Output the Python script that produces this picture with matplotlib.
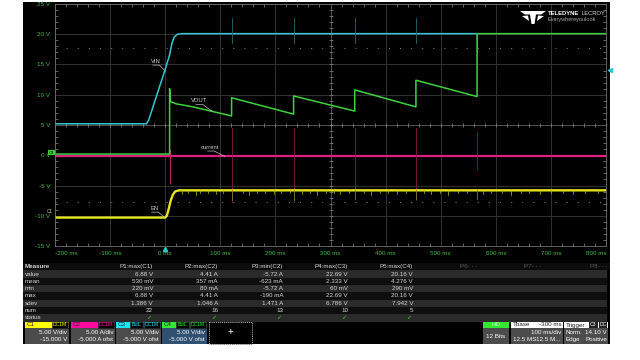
import matplotlib

matplotlib.use("Agg")
import matplotlib.pyplot as plt
from matplotlib.patches import Rectangle, Polygon
from matplotlib.ticker import MultipleLocator

plt.rcParams["font.family"] = ["Liberation Sans", "DejaVu Sans"]

# waveform data, time in ms, values in displayed volts (5 V/div grid)
vin_t = [-200, -34, -30, 0, 8, 12, 16, 22, 30, 566]
vin_v = [5.2, 5.2, 5.8, 14.2, 16.6, 18.4, 19.5, 20.0, 20.1, 20.1]

vout_t = [-200, 8, 8, 9, 10, 20, 50, 120.5, 120.5, 233, 233, 344, 344, 455, 455, 566, 566, 800]
vout_v = [0.2, 0.2, 11.0, 9.2, 8.85, 8.5, 8.0, 6.5, 9.5, 6.8, 9.8, 7.3, 10.8, 8.0, 12.4, 9.7, 20.1, 20.1]

cur_t = [-200, 800]
cur_v = [-0.1, -0.1]
cur_glitch_t = 8
cur_glitch_lo = -4.6
cur_glitch_hi = 0.8

en_t = [-200, 0, 3, 6, 10, 14, 18, 25, 800]
en_v = [-10.3, -10.3, -10.0, -9.0, -7.5, -6.5, -6.0, -5.8, -5.8]

# small downward glitches on the EN trace
en_glitch_t = [31, 42, 55, 64, 78, 93, 104, 141, 152, 167, 181, 197, 211, 226, 249, 262, 276,
               291, 306, 318, 334, 361, 373, 389, 404, 421, 437, 469, 483, 498, 513, 531, 548,
               576, 591, 611, 628, 646, 661, 681, 701, 722, 741, 762, 786]
en_glitch_v = [-6.4, -6.2, -6.5, -6.3, -6.2, -6.4, -6.3, -6.2, -6.5, -6.3, -6.2, -6.4, -6.3, -6.2,
               -6.4, -6.3, -6.5, -6.2, -6.3, -6.4, -6.2, -6.3, -6.5, -6.2, -6.3, -6.4, -6.2, -6.3,
               -6.4, -6.2, -6.5, -6.3, -6.2, -6.4, -6.3, -6.2, -6.5, -6.3, -6.2, -6.4, -6.3, -6.2,
               -6.4, -6.3, -6.2]

# switching events where every channel shows a spike
jump_t = [120.5, 233, 344, 455, 566]
vin_spike_hi = [22.7, 22.7, 22.7, 22.7, 20.2]
vin_spike_lo = [18.6, 18.6, 18.6, 18.6, 16.9]
cur_spike_hi = [4.5, 4.5, 4.5, 4.5, 3.9]
cur_spike_lo = [-7.7, -7.7, -5.7, -7.4, -2.4]
en_spike_lo = [-7.4, -7.4, -7.2, -7.3, -7.2]

x_ticks = [-200, -100, 0, 100, 200, 300, 400, 500, 600, 700, 800]
x_labels = ["-200 ms", "-100 ms", "0 ms", "100 ms", "200 ms", "300 ms", "400 ms",
            "500 ms", "600 ms", "700 ms", "800 ms"]
y_ticks = [25, 20, 15, 10, 5, 0, -5, -10, -15]
y_labels = ["25 V", "20 V", "15 V", "10 V", "5 V", "0 V", "-5 V", "-10 V", "-15 V"]

trace_names = ["VIN", "VOUT", "current", "EN"]
trace_label_xy = [(-17.6, 15.5), (61, 9.0), (82, 1.3), (-19.5, -8.8)]
trace_point_xy = [(0.5, 13.9), (86, 7.2), (108, -0.2), (0.5, -10.4)]

# measurement table
rows = ["value", "mean", "min", "max", "sdev", "num", "status"]
params = ["P1:max(C1)", "P2:max(C2)", "P3:min(C2)", "P4:max(C3)", "P5:max(C4)",
          "P6- - -", "P7- - -", "P8- - -"]
p1 = ["6.88 V", "530 mV", "220 mV", "6.88 V", "1.386 V", "22"]
p2 = ["4.41 A", "357 mA", "80 mA", "4.41 A", "1.046 A", "16"]
p3 = ["-5.72 A", "-623 mA", "-5.72 A", "-190 mA", "1.471 A", "13"]
p4 = ["22.69 V", "2.333 V", "60 mV", "22.69 V", "6.786 V", "10"]
p5 = ["20.16 V", "4.276 V", "290 mV", "20.16 V", "7.942 V", "5"]

C_CYAN = "#35c6d4"
C_GREEN = "#3fd23f"
C_PINK = "#dd1f7d"
C_YEL = "#e6e61e"
C_TICK = "#3dbb3d"
C_TXT = "#d8d8d8"

fig = plt.figure(figsize=(6.4, 3.6), dpi=100, facecolor="white")
fig.patches.append(Rectangle((23 / 640, 1 - 344 / 360), 587 / 640, 342 / 360,
                             transform=fig.transFigure, facecolor="black", zorder=-1))

ax = fig.add_axes([55 / 640, 1 - 246 / 360, 551 / 640, 242 / 360], facecolor="black")
ax.set_xlim(-200, 800)
ax.set_ylim(-15, 25)
ax.set_xticks(x_ticks)
ax.set_xticklabels(x_labels)
ax.set_yticks(y_ticks)
ax.set_yticklabels(y_labels)
ax.xaxis.set_minor_locator(MultipleLocator(20))
ax.yaxis.set_minor_locator(MultipleLocator(1))
ax.tick_params(which="major", length=0, colors=C_TICK, labelsize=4.5, pad=3.5)
ax.tick_params(which="minor", direction="in", length=2, color="#8a8a8a", width=0.5,
               top=True, right=True)
xl = ax.get_xticklabels()
xl[0].set_ha("left")
xl[-1].set_ha("right")
for s in ax.spines.values():
    s.set_color("#707070")
    s.set_linewidth(0.6)
ax.grid(True, which="major", color="#3a3a3a", linewidth=0.6)

# centre crosshair with sub-division ticks
ax.axvline(300, color="#555555", linewidth=0.6)
ax.axhline(5, color="#555555", linewidth=0.6)
ax.plot(list(range(-200, 801, 20)), [5] * 51, ls="none", marker="|", ms=2.5,
        mew=0.5, color="#8a8a8a")
ax.plot([300] * 41, list(range(-15, 26)), ls="none", marker="_", ms=2.5,
        mew=0.5, color="#8a8a8a")

# dotted reference levels
ax.axhline(17.7, color="#707070", lw=0.8, ls=(0, (1, 9)))
ax.axhline(-7.7, color="#707070", lw=0.8, ls=(0, (1, 9)))

# traces
ax.plot(cur_t, cur_v, color=C_PINK, lw=1.6, solid_capstyle="butt")
ax.plot([cur_glitch_t, cur_glitch_t], [cur_glitch_hi, cur_glitch_lo], color="#c01a6c", lw=0.8)
for t, hi, lo in zip(jump_t, cur_spike_hi, cur_spike_lo):
    ax.plot([t, t], [hi, lo], color="#8a1650", lw=0.6)

ax.plot(en_t, en_v, color=C_YEL, lw=1.7)
for t, v in zip(en_glitch_t, en_glitch_v):
    ax.plot([t, t], [-5.8, v], color="#b5b520", lw=0.5)
for t, lo in zip(jump_t, en_spike_lo):
    ax.plot([t, t], [-5.8, lo], color="#7a7a30", lw=0.6)

ax.plot(vin_t, vin_v, color=C_CYAN, lw=1.1)
for t, hi, lo in zip(jump_t, vin_spike_hi, vin_spike_lo):
    ax.plot([t, t], [lo, hi], color="#236a72", lw=0.6)

ax.plot(vout_t, vout_v, color=C_GREEN, lw=1.1)

# trace labels with leader lines
for name, (lx, ly), (px, py) in zip(trace_names, trace_label_xy, trace_point_xy):
    ax.text(lx, ly, name, color="#cfcfcf", fontsize=4.2, ha="center", va="center")
    ax.plot([lx - 5, lx + 7, px], [ly - 0.6, ly - 0.6, py], color="#bbbbbb", lw=0.5)

# trigger markers
ax.plot([807], [14.1], marker="<", ms=3, color=C_CYAN, clip_on=False)
ax.plot([0], [-15.5], marker="^", ms=3, color=C_CYAN, clip_on=False)

# overlay in pixel coords for logo, table and info boxes
ov = fig.add_axes([0, 0, 1, 1], facecolor="none", zorder=3)
ov.set_xlim(0, 640)
ov.set_ylim(360, 0)
ov.axis("off")

ov.add_patch(Rectangle((48, 150), 7, 5, facecolor=C_GREEN, edgecolor="none"))
ov.text(51.5, 152.6, "C4", fontsize=3.2, color="black", ha="center", va="center")
ov.text(50, 211.5, "C1", fontsize=3.4, color="#d8d8a0", ha="center", va="center")

# logo
ov.add_patch(Polygon([(520, 11), (546, 11), (541, 14.5), (536, 14.5), (534.5, 24),
                      (531.5, 24), (530, 14.5), (525, 14.5)], closed=True,
                     facecolor="white", edgecolor="none"))
ov.add_patch(Polygon([(522, 16), (528, 15.5), (529, 21)], closed=True, facecolor="white"))
ov.add_patch(Polygon([(544, 16), (538, 15.5), (537, 21)], closed=True, facecolor="white"))
ov.text(548, 13.5, "TELEDYNE", fontsize=4.2, fontweight="bold", color="white", va="center")
ov.text(582, 13.5, "LECROY", fontsize=4.2, color="#dddddd", va="center")
ov.text(548, 20, "Everywhereyoulook", fontsize=4.0, color="#aaaaaa", va="center")

# table
col_x = [153, 218, 283, 348, 413, 478, 542, 607]
row_h = 7.33
ov.add_patch(Rectangle((23, 263), 587, row_h, facecolor="#0c0c0c", edgecolor="none"))
ov.text(25, 266.7, "Measure", fontsize=4.5, fontweight="bold", color=C_TXT, va="center")
for i, p in enumerate(params):
    ov.text(col_x[i], 266.7, p, fontsize=4.5, va="center", ha="right",
            color=C_TXT if i < 5 else "#5a5a5a")
cols = [p1, p2, p3, p4, p5]
for r, name in enumerate(rows):
    yc = 274 + row_h * r
    ov.add_patch(Rectangle((23, yc - row_h / 2), 584, row_h,
                           facecolor="#2a2a2a" if r % 2 == 0 else "#0e0e0e",
                           edgecolor="none"))
    ov.text(25, yc, name, fontsize=4.5, color=C_TXT, va="center")
    for c, vals in enumerate(cols):
        if name == "status":
            ov.text(col_x[c] - 2, yc, "\u2713", fontsize=4.5, color="#44dd22",
                    ha="right", va="center", fontweight="bold")
        else:
            ov.text(col_x[c], yc, vals[r], fontsize=4.5, color=C_TXT, ha="right", va="center")


def chan_box(x0, x1, head, name, tags, line1, line2, body="#4c4c4c", tag_col="black"):
    ov.add_patch(Rectangle((x0, 321.5), x1 - x0, 6.8, facecolor=head, edgecolor="none"))
    ov.add_patch(Rectangle((x0, 328.3), x1 - x0, 15.7, facecolor=body, edgecolor="none"))
    ov.text(x0 + 2, 325, name, fontsize=4.5, color="#222222", va="center")
    xr = x1 - 1
    for tag in reversed(tags):
        w = 3.6 * len(tag) + 2
        ov.add_patch(Rectangle((xr - w, 322.3), w, 5.4, facecolor=tag_col,
                               edgecolor="#222222", lw=0.4))
        ov.text(xr - w / 2, 325, tag, fontsize=3.6, color=head, ha="center", va="center")
        xr -= w + 1
    ov.text(x1 - 2, 333, line1, fontsize=4.5, color="white", ha="right", va="center")
    ov.text(x1 - 2, 339.5, line2, fontsize=4.5, color="white", ha="right", va="center")


chan_box(25, 69, "#ffff00", "C1", ["DC1M"], "5.00 V/div", "-15.000 V")
chan_box(71, 115, "#ff0aa0", "C2", ["DC1M"], "5.00 A/div", "-5.000 A ofst")
chan_box(116, 161, "#1de6f2", "C3", ["BwL", "DC1M"], "5.00 V/div", "-5.000 V ofst")
chan_box(162, 207, "#36e836", "C4", ["BwL", "DC1M"], "5.00 V/div", "-5.000 V ofst",
         body="#2f5070")

ov.add_patch(Rectangle((209, 321.5), 43, 22.5, facecolor="black", edgecolor="white",
                       lw=0.5, ls=(0, (1.5, 1.5))))
ov.text(230.5, 332.5, "+", fontsize=7, color="white", ha="center", va="center")

# acquisition info boxes
ov.add_patch(Rectangle((483, 321.5), 26, 6.8, facecolor="#2fe82f", edgecolor="none"))
ov.add_patch(Rectangle((483, 328.3), 26, 15.7, facecolor="#4c4c4c", edgecolor="none"))
ov.text(496, 325, "HD", fontsize=4.5, color="#d0ffd0", ha="center", va="center")
ov.text(496, 336, "12 Bits", fontsize=4.5, color="white", ha="center", va="center")

ov.add_patch(Rectangle((511, 321.5), 52, 6.8, facecolor="white", edgecolor="none"))
ov.add_patch(Rectangle((511, 328.3), 52, 15.7, facecolor="#4c4c4c", edgecolor="none"))
ov.text(513, 325, "Tbase", fontsize=4.5, color="#222222", va="center")
ov.text(562, 325, "-300 ms", fontsize=4.5, color="#222222", ha="right", va="center")
ov.text(561, 333, "100 ms/div", fontsize=4.5, color="white", ha="right", va="center")
ov.text(513, 339.5, "12.5 MS", fontsize=4.5, color="white", va="center")
ov.text(561, 339.5, "12.5 M...", fontsize=4.5, color="white", ha="right", va="center")

ov.add_patch(Rectangle((564, 321.5), 44, 6.8, facecolor="white", edgecolor="none"))
ov.add_patch(Rectangle((564, 328.3), 44, 15.7, facecolor="#4c4c4c", edgecolor="none"))
ov.text(566, 325, "Trigger", fontsize=4.5, color="#222222", va="center")
for bx, tag in [(589, "C3"), (598.5, "DC")]:
    ov.add_patch(Rectangle((bx, 322.3), 8.5, 5.4, facecolor="#222222", edgecolor="none"))
    ov.text(bx + 4.25, 325, tag, fontsize=3.6, color="white", ha="center", va="center")
ov.text(566, 333, "Norm.", fontsize=4.5, color="white", va="center")
ov.text(607, 333, "14.10 V", fontsize=4.5, color="white", ha="right", va="center")
ov.text(566, 339.5, "Edge", fontsize=4.5, color="white", va="center")
ov.text(607, 339.5, "Positive", fontsize=4.5, color="white", ha="right", va="center")

fig.savefig("out.png", dpi=100, facecolor="white")
